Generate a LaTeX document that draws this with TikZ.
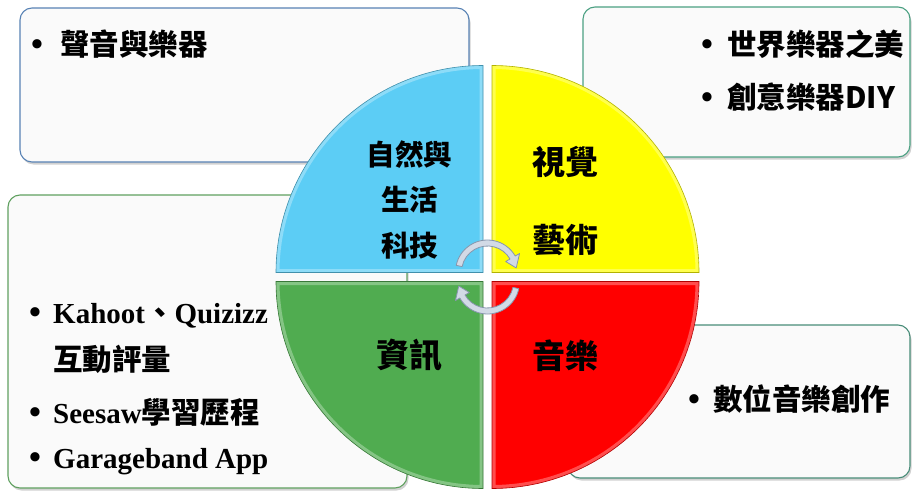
\documentclass[tikz,border=0pt]{standalone}
\usepackage{fontspec}
\usetikzlibrary{shadows}
\newfontfamily\cjk{Noto Sans CJK TC}
\newfontfamily\tnr{Liberation Serif}
\definecolor{qblue}{RGB}{92,205,245}
\definecolor{qyellow}{RGB}{255,255,0}
\definecolor{qgreen}{RGB}{80,172,80}
\definecolor{qred}{RGB}{255,0,0}
\definecolor{edTL}{RGB}{88,130,180}
\definecolor{edTR}{RGB}{75,160,130}
\definecolor{edBL}{RGB}{95,160,95}
\definecolor{edBR}{RGB}{72,140,120}
\definecolor{boxfill}{RGB}{250,250,250}
\definecolor{arrfill}{RGB}{210,218,230}
\definecolor{arredge}{RGB}{135,150,172}
\newcommand\bul[1]{\makebox[#1][l]{\tnr\fontsize{34}{34}\selectfont\textbullet}}
\begin{document}
\begin{tikzpicture}[x=1pt,y=1pt,
  infobox/.style={rounded corners=12pt, fill=boxfill, line width=1.1pt,
    drop shadow={shadow xshift=1.5pt, shadow yshift=-2.5pt, opacity=0.18, fill=black}},
  bevel/.style={line width=7pt, white, opacity=0.3},
  item/.style={anchor=west, inner sep=0pt, text height=21.5pt, text depth=0pt,
    font=\cjk\bfseries\fontsize{29.5}{30}\selectfont},
  lbl/.style={anchor=center, inner sep=0pt, text height=25pt, text depth=0pt,
    font=\cjk\bfseries\fontsize{33}{34}\selectfont},
  lblsmall/.style={anchor=center, inner sep=0pt, text height=21.5pt, text depth=0pt,
    font=\cjk\bfseries\fontsize{28.5}{30}\selectfont},
  cyc/.style={fill=arrfill, draw=arredge, line width=0.8pt, line join=round}]
\useasboundingbox (0,0) rectangle (912,491);

% background boxes
\draw[infobox, draw=edTL] (20,329) rectangle (469,483);
\draw[infobox, draw=edTR] (583,334) rectangle (910,484);
\draw[infobox, draw=edBL] (8,3) rectangle (407,296);
\draw[infobox, draw=edBR] (568,13) rectangle (910,166);

% quadrants
\begin{scope}
\clip (483,218.5) -- ++(180:207pt) arc[start angle=180,end angle=90,radius=207pt] -- cycle;
\fill[qblue] (483,218.5) -- ++(180:207pt) arc[start angle=180,end angle=90,radius=207pt] -- cycle;
\draw[bevel] (483,218.5) -- ++(180:207pt) arc[start angle=180,end angle=90,radius=207pt] -- cycle;
\end{scope}
\draw[qblue!70!black, line width=0.6pt] (483,218.5) -- ++(180:207pt) arc[start angle=180,end angle=90,radius=207pt] -- cycle;

\begin{scope}
\clip (492,218.5) -- ++(90:207pt) arc[start angle=90,end angle=0,radius=207pt] -- cycle;
\fill[qyellow] (492,218.5) -- ++(90:207pt) arc[start angle=90,end angle=0,radius=207pt] -- cycle;
\draw[bevel] (492,218.5) -- ++(90:207pt) arc[start angle=90,end angle=0,radius=207pt] -- cycle;
\end{scope}
\draw[qyellow!70!black, line width=0.6pt] (492,218.5) -- ++(90:207pt) arc[start angle=90,end angle=0,radius=207pt] -- cycle;

\begin{scope}
\clip (483,209.5) -- ++(180:207pt) arc[start angle=180,end angle=270,radius=207pt] -- cycle;
\fill[qgreen] (483,209.5) -- ++(180:207pt) arc[start angle=180,end angle=270,radius=207pt] -- cycle;
\draw[bevel] (483,209.5) -- ++(180:207pt) arc[start angle=180,end angle=270,radius=207pt] -- cycle;
\end{scope}
\draw[qgreen!70!black, line width=0.6pt] (483,209.5) -- ++(180:207pt) arc[start angle=180,end angle=270,radius=207pt] -- cycle;

\begin{scope}
\clip (492,209.5) -- ++(0:207pt) arc[start angle=0,end angle=-90,radius=207pt] -- cycle;
\fill[qred] (492,209.5) -- ++(0:207pt) arc[start angle=0,end angle=-90,radius=207pt] -- cycle;
\draw[bevel] (492,209.5) -- ++(0:207pt) arc[start angle=0,end angle=-90,radius=207pt] -- cycle;
\end{scope}
\draw[qred!70!black, line width=0.6pt] (492,209.5) -- ++(0:207pt) arc[start angle=0,end angle=-90,radius=207pt] -- cycle;

% cycle arrows
\begin{scope}[shift={(487.5,219)}]
\filldraw[cyc] (168:32pt) arc[start angle=168,end angle=30,radius=32pt] -- (30:37pt) -- (8:29pt) -- (30:21pt) -- (30:26pt) arc[start angle=30,end angle=168,radius=26pt] -- cycle;
\end{scope}
\begin{scope}[shift={(487.5,209)}]
\filldraw[cyc] (-12:32pt) arc[start angle=-12,end angle=-150,radius=32pt] -- (-150:37pt) -- (-172:29pt) -- (-150:21pt) -- (-150:26pt) arc[start angle=-150,end angle=-12,radius=26pt] -- cycle;
\end{scope}

% quadrant labels
\node[lblsmall] (nat1) at (409.5,336) {自然與};
\node[lblsmall] (nat2) at (409.5,291) {生活};
\node[lblsmall] (nat3) at (409.5,245.5) {科技};
\node[lbl] (vis1) at (565.5,329) {視覺};
\node[lbl] (vis2) at (565.5,251) {藝術};
\node[lbl] (inf) at (409.5,136) {資訊};
\node[lbl] (mus) at (565.5,135.5) {音樂};

% box texts
\node[item] (tl1) at (31,446) {\bul{29pt}聲音與樂器};
\node[item] (tr1) at (701,446) {\bul{26pt}世界樂器之美};
\node[item] (tr2) at (701,393) {\bul{26pt}創意樂器DIY};
\node[item] (br1) at (688,91) {\bul{25pt}數位音樂創作};
\node[item] (bl1) at (29,178) {\bul{24pt}{\tnr\fontsize{29}{30}\selectfont Kahoot}、{\tnr\fontsize{29}{30}\selectfont Quizizz}};
\node[item] (bl2) at (53,131) {互動評量};
\node[item] (bl3) at (29,78) {\bul{24pt}{\tnr\fontsize{29}{30}\selectfont Seesaw}學習歷程};
\node[item] (bl4) at (29,33) {\bul{24pt}{\tnr\fontsize{29}{30}\selectfont Garageband App}};
\end{tikzpicture}
\end{document}
